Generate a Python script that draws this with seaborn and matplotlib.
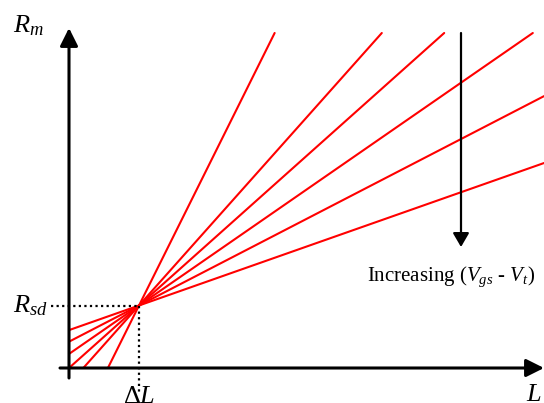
import numpy as np
import pandas as pd
import matplotlib
matplotlib.use("Agg")
import matplotlib.pyplot as plt
import seaborn as sns

# Data (units: L in multiples of delta L, Rm in multiples of Rsd)
delta_L = 1.0
R_sd = 1.0
slopes = [0.394, 0.579, 0.775, 1.0, 1.257, 2.25]   # dRm/dL for increasing (Vgs - Vt) -> decreasing slope
line_names = ["s1", "s2", "s3", "s4", "s5", "s6"]
L_max = 6.786
Rm_max = 5.36

sns.set_theme(style="white")
plt.rcParams["font.family"] = ["Liberation Serif", "DejaVu Serif"]
plt.rcParams["mathtext.fontset"] = "custom"
plt.rcParams["mathtext.rm"] = "Liberation Serif"
plt.rcParams["mathtext.it"] = "Liberation Serif:italic"
plt.rcParams["text.color"] = "black"

rows = []
for name, m in zip(line_names, slopes):
    y0 = R_sd - m * delta_L
    if y0 >= 0:
        p0 = (0.0, y0)
    else:
        p0 = (delta_L - R_sd / m, 0.0)
    x1 = delta_L + (Rm_max - R_sd) / m
    if x1 <= L_max:
        p1 = (x1, Rm_max)
    else:
        p1 = (L_max, R_sd + m * (L_max - delta_L))
    rows.append({"line": name, "L": p0[0], "Rm": p0[1]})
    rows.append({"line": name, "L": p1[0], "Rm": p1[1]})
df = pd.DataFrame(rows)

fig = plt.figure(figsize=(5.44, 4.03), dpi=100)
ax = fig.add_axes([0, 0, 1, 1])
sns.lineplot(data=df, x="L", y="Rm", units="line", estimator=None,
             color="#ff0000", linewidth=1.5, ax=ax, legend=False, sort=False)

ax.set_xlim(-69 / 70, 475 / 70)
ax.set_ylim(-35 / 62.5, 368 / 62.5)
ax.set_axis_off()

# axes with arrows
ax.annotate("", xy=(0, 340 / 62.5), xytext=(0, -10 / 62.5),
            arrowprops=dict(arrowstyle="-|>,head_length=0.6,head_width=0.3",
                            mutation_scale=18, lw=2.2, color="black",
                            shrinkA=0, shrinkB=0))
ax.annotate("", xy=(475 / 70, 0), xytext=(-9 / 70, 0),
            arrowprops=dict(arrowstyle="-|>,head_length=0.6,head_width=0.3",
                            mutation_scale=18, lw=2.2, color="black",
                            shrinkA=0, shrinkB=0))

# dotted guides
ax.plot([-18 / 70, delta_L], [R_sd, R_sd], color="black", lw=1.6, ls=(0, (1, 1.5)))
ax.plot([delta_L, delta_L], [R_sd, -25 / 62.5], color="black", lw=1.6, ls=(0, (1, 1.5)))

# trend arrow
ax.annotate("", xy=(392 / 70, 121 / 62.5), xytext=(392 / 70, 335 / 62.5),
            arrowprops=dict(arrowstyle="-|>,head_length=0.6,head_width=0.35",
                            mutation_scale=14, lw=1.6, color="black",
                            shrinkA=0, shrinkB=0))

fs = 19
ax.text(-56 / 70, 336 / 62.5, r"$R_m$", fontsize=fs, ha="left", va="baseline")
ax.text(-56 / 70, 56 / 62.5, r"$R_{sd}$", fontsize=fs, ha="left", va="baseline")
ax.text(54 / 70, -35 / 62.5, r"$\Delta L$", fontsize=fs, ha="left", va="baseline")
ax.text(457 / 70, -33 / 62.5, r"$L$", fontsize=fs, ha="left", va="baseline")
ax.text(298 / 70, 87 / 62.5, r"Increasing ($V_{gs}$ - $V_t$)", fontsize=15,
        ha="left", va="baseline")

fig.savefig("out.png", dpi=100)
